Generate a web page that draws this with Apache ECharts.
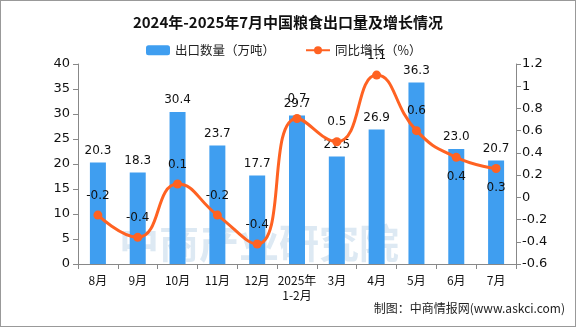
<!DOCTYPE html>
<html><head><meta charset="utf-8">
<script src="https://cdn.jsdelivr.net/npm/echarts@6/dist/echarts.min.js"></script>
<style>html,body{margin:0;padding:0;background:#fff}#c{width:576px;height:327px;box-sizing:border-box;border:1px solid #999}</style>
</head><body><div id="c"></div>
<script>
const categories = ['8月','9月','10月','11月','12月','2025年\n1-2月','3月','4月','5月','6月','7月'];
const exportVolume = [20.3,18.3,30.4,23.7,17.7,29.7,21.5,26.9,36.3,23.0,20.7];
const growth = [-0.16,-0.36,0.12,-0.16,-0.42,0.71,0.5,1.1,0.6,0.36,0.26];
const growthLabelPos = ['top','top','top','top','top','top','top','top','top','bottom','bottom'];

const font = '"Noto Sans CJK SC","DejaVu Sans",sans-serif';
const chart = echarts.init(document.getElementById('c'));
chart.setOption({
  animation:false,
  title:{text:'2024年-2025年7月中国粮食出口量及增长情况',left:'center',top:9,
    textStyle:{fontSize:15,fontWeight:'bold',color:'#111',fontFamily:font}},
  legend:{top:38,left:140,itemGap:30,itemWidth:24,itemHeight:10,
    textStyle:{fontSize:12.5,color:'#222',fontFamily:font},
    data:['出口数量（万吨）','同比增长（%）']},
  graphic:[
    {type:'text',left:118,top:222,silent:true,z:-1,style:{text:'中商产业研究院',fontSize:40,fontWeight:'bold',fill:'rgba(170,200,225,0.4)',fontFamily:font}},
    {type:'text',right:10,top:301,style:{text:'制图：中商情报网(www.askci.com)',fontSize:12,fill:'#222',fontFamily:font}}
  ],
  grid:{left:77,right:59,top:63,bottom:62},
  xAxis:{type:'category',data:categories,
    axisLine:{lineStyle:{color:'#888'}},axisTick:{show:true,length:5,lineStyle:{color:'#888'}},
    axisLabel:{color:'#111',fontSize:12,fontFamily:font,margin:9,interval:0,lineHeight:15}},
  yAxis:[
    {type:'value',min:0,max:40,interval:5,splitLine:{show:false},
      axisLine:{show:true,lineStyle:{color:'#888'}},axisTick:{show:true,length:5,lineStyle:{color:'#888'}},
      axisLabel:{color:'#111',fontSize:13,fontFamily:'"DejaVu Sans",sans-serif',margin:8}},
    {type:'value',min:-0.6,max:1.2,interval:0.2,splitLine:{show:false},
      axisLine:{show:true,lineStyle:{color:'#888'}},axisTick:{show:true,length:5,lineStyle:{color:'#888'}},
      axisLabel:{color:'#111',fontSize:13,fontFamily:'"DejaVu Sans",sans-serif',margin:6,
        formatter:v=>String(Math.round(v*10)/10)}}
  ],
  series:[
    {name:'出口数量（万吨）',type:'bar',data:exportVolume,barWidth:16,
      itemStyle:{color:'#3f9ef0'},
      label:{show:true,position:'top',distance:6,color:'#111',fontSize:12,fontFamily:'"DejaVu Sans",sans-serif',
        formatter:p=>p.value.toFixed(1)}},
    {name:'同比增长（%）',type:'line',yAxisIndex:1,smooth:true,symbol:'circle',symbolSize:9,
      data:growth.map((v,i)=>({value:v,label:{position:growthLabelPos[i]}})),
      lineStyle:{color:'#ff6222',width:3},itemStyle:{color:'#ff6222'},
      label:{show:true,distance:9,color:'#111',fontSize:12,fontFamily:'"DejaVu Sans",sans-serif',
        formatter:p=>p.value.toFixed(1)}}
  ]
});
</script></body></html>
